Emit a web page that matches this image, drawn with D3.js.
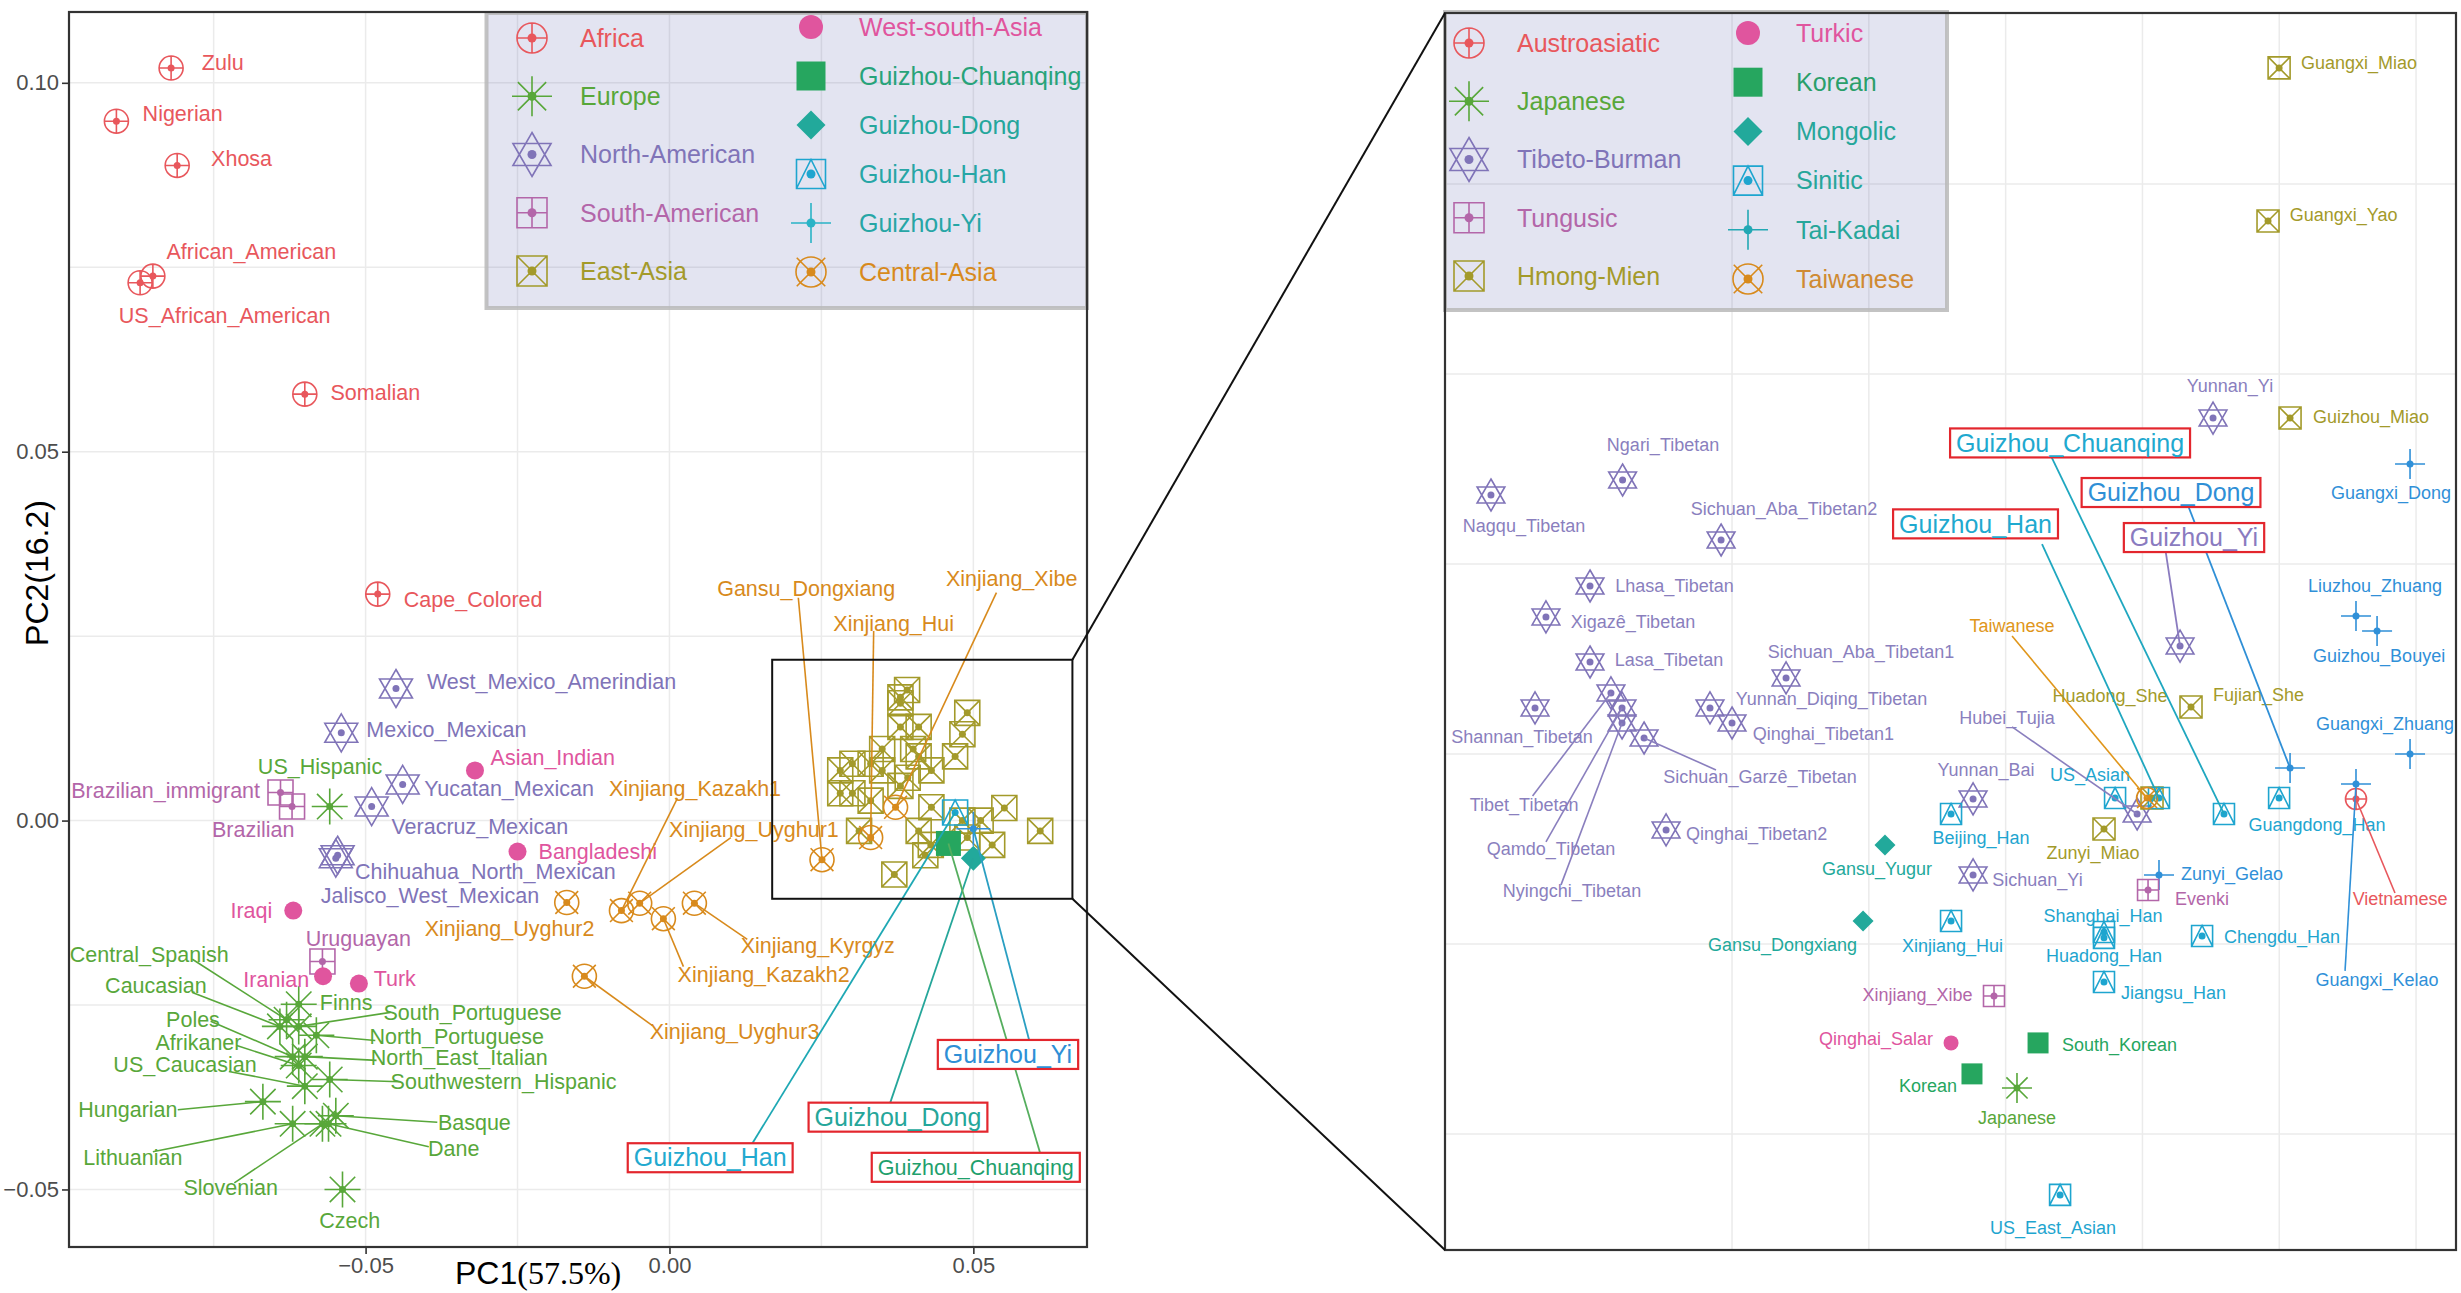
<!DOCTYPE html>
<html>
<head>
<meta charset="utf-8">
<script src="https://cdn.jsdelivr.net/npm/d3@7"></script>
<style>
  html, body { margin: 0; padding: 0; background: #fff; }
  svg { display: block; font-family: "Liberation Sans", Arial, sans-serif; }
</style>
</head>
<body>
<svg id="chart" width="2461" height="1293"></svg>
<script>
// ---------- data: left panel (worldwide PCA) ----------
const leftGroups = ['Africa', 'Europe', 'North-American', 'South-American', 'East-Asia',
  'West-south-Asia', 'Guizhou-Chuanqing', 'Guizhou-Dong', 'Guizhou-Han', 'Guizhou-Yi', 'Central-Asia'];

// name, group, PC1, PC2
const leftPoints = [
  ['Zulu', 'Africa', -0.0820, 0.1020],
  ['Nigerian', 'Africa', -0.0910, 0.0948],
  ['Xhosa', 'Africa', -0.0810, 0.0888],
  ['African_American', 'Africa', -0.0850, 0.0738],
  ['US_African_American', 'Africa', -0.0871, 0.0729],
  ['Somalian', 'Africa', -0.0600, 0.0578],
  ['Cape_Colored', 'Africa', -0.0480, 0.0307],
  ['US_Hispanic', 'Europe', -0.0559, 0.0019],
  ['Finns', 'Europe', -0.0610, -0.0249],
  ['Central_Spanish', 'Europe', -0.0630, -0.0270],
  ['Caucasian', 'Europe', -0.0641, -0.0279],
  ['South_Portuguese', 'Europe', -0.0610, -0.0279],
  ['North_Portuguese', 'Europe', -0.0581, -0.0291],
  ['Poles', 'Europe', -0.0620, -0.0320],
  ['North_East_Italian', 'Europe', -0.0600, -0.0320],
  ['Afrikaner', 'Europe', -0.0610, -0.0332],
  ['Southwestern_Hispanic', 'Europe', -0.0559, -0.0351],
  ['US_Caucasian', 'Europe', -0.0600, -0.0360],
  ['Hungarian', 'Europe', -0.0669, -0.0381],
  ['Lithuanian', 'Europe', -0.0620, -0.0411],
  ['Slovenian', 'Europe', -0.0571, -0.0411],
  ['Dane', 'Europe', -0.0561, -0.0411],
  ['Basque', 'Europe', -0.0549, -0.0400],
  ['Czech', 'Europe', -0.0538, -0.0500],
  ['West_Mexico_Amerindian', 'North-American', -0.0450, 0.0179],
  ['Mexico_Mexican', 'North-American', -0.0540, 0.0119],
  ['Yucatan_Mexican', 'North-American', -0.0439, 0.0049],
  ['Veracruz_Mexican', 'North-American', -0.0490, 0.0019],
  ['Chihuahua_North_Mexican', 'North-American', -0.0549, -0.0051],
  ['Jalisco_West_Mexican', 'North-American', -0.0546, -0.0047],
  ['Brazilian_immigrant', 'South-American', -0.0640, 0.0038],
  ['Brazilian', 'South-American', -0.0621, 0.0019],
  ['Uruguayan', 'South-American', -0.0571, -0.0191],
  ['Asian_Indian', 'West-south-Asia', -0.0320, 0.0068],
  ['Bangladeshi', 'West-south-Asia', -0.0250, -0.0042],
  ['Iraqi', 'West-south-Asia', -0.0619, -0.0122],
  ['Iranian', 'West-south-Asia', -0.0570, -0.0211],
  ['Turk', 'West-south-Asia', -0.0511, -0.0221],
  ['EA01', 'East-Asia', 0.0391, 0.0177], ['EA02', 'East-Asia', 0.0380, 0.0167],
  ['EA03', 'East-Asia', 0.0380, 0.0159], ['EA04', 'East-Asia', 0.0490, 0.0146],
  ['EA05', 'East-Asia', 0.0380, 0.0127], ['EA06', 'East-Asia', 0.0410, 0.0127],
  ['EA07', 'East-Asia', 0.0482, 0.0117], ['EA08', 'East-Asia', 0.0350, 0.0097],
  ['EA09', 'East-Asia', 0.0401, 0.0097], ['EA10', 'East-Asia', 0.0410, 0.0087],
  ['EA11', 'East-Asia', 0.0470, 0.0087], ['EA12', 'East-Asia', 0.0281, 0.0068],
  ['EA13', 'East-Asia', 0.0301, 0.0077], ['EA14', 'East-Asia', 0.0331, 0.0077],
  ['EA15', 'East-Asia', 0.0350, 0.0068], ['EA16', 'East-Asia', 0.0431, 0.0068],
  ['EA17', 'East-Asia', 0.0392, 0.0058], ['EA18', 'East-Asia', 0.0380, 0.0047],
  ['EA19', 'East-Asia', 0.0281, 0.0037], ['EA20', 'East-Asia', 0.0301, 0.0037],
  ['EA21', 'East-Asia', 0.0331, 0.0027], ['EA22', 'East-Asia', 0.0431, 0.0018],
  ['EA23', 'East-Asia', 0.0551, 0.0017], ['EA24', 'East-Asia', 0.0312, -0.0014],
  ['EA25', 'East-Asia', 0.0410, -0.0014], ['EA26', 'East-Asia', 0.0610, -0.0014],
  ['EA27', 'East-Asia', 0.0482, 0.0000], ['EA28', 'East-Asia', 0.0490, -0.0023],
  ['EA29', 'East-Asia', 0.0531, -0.0033], ['EA30', 'East-Asia', 0.0430, -0.0033],
  ['EA31', 'East-Asia', 0.0421, -0.0047], ['EA32', 'East-Asia', 0.0370, -0.0073],
  ['EA33', 'East-Asia', 0.0512, 0.0000],
  ['Xinjiang_Kazakh1', 'Central-Asia', -0.0079, -0.0122],
  ['Xinjiang_Uyghur1', 'Central-Asia', -0.0049, -0.0112],
  ['Xinjiang_Kazakh2', 'Central-Asia', -0.0010, -0.0133],
  ['Xinjiang_Kyrgyz', 'Central-Asia', 0.0041, -0.0112],
  ['Xinjiang_Uyghur3', 'Central-Asia', -0.0140, -0.0211],
  ['Xinjiang_Uyghur2', 'Central-Asia', -0.0169, -0.0111],
  ['Gansu_Dongxiang', 'Central-Asia', 0.0251, -0.0053],
  ['Xinjiang_Hui', 'Central-Asia', 0.0331, -0.0023],
  ['Xinjiang_Xibe', 'Central-Asia', 0.0372, 0.0018],
  ['Guizhou_Han', 'Guizhou-Han', 0.0470, 0.0011],
  ['Guizhou_Yi', 'Guizhou-Yi', 0.0500, -0.0011],
  ['Guizhou_Chuanqing', 'Guizhou-Chuanqing', 0.0459, -0.0031],
  ['Guizhou_Dong', 'Guizhou-Dong', 0.0500, -0.0051]
];

// repelled label anchors: name, labelPC1, labelPC2, [segment start PC1, PC2]
const leftLabelPos = [
  ['Zulu', -0.0735, 0.1028], ['Nigerian', -0.0801, 0.0958], ['Xhosa', -0.0704, 0.0897],
  ['African_American', -0.0688, 0.0772], ['US_African_American', -0.0732, 0.0684],
  ['Somalian', -0.0484, 0.0580], ['Cape_Colored', -0.0323, 0.0300],
  ['West_Mexico_Amerindian', -0.0194, 0.0188], ['Mexico_Mexican', -0.0367, 0.0124],
  ['Yucatan_Mexican', -0.0264, 0.0043], ['Veracruz_Mexican', -0.0312, -0.0008],
  ['Chihuahua_North_Mexican', -0.0303, -0.0069], ['Jalisco_West_Mexican', -0.0394, -0.0101],
  ['Brazilian_immigrant', -0.0829, 0.0041], ['Brazilian', -0.0685, -0.0012],
  ['Uruguayan', -0.0512, -0.0160], ['Asian_Indian', -0.0192, 0.0086],
  ['Bangladeshi', -0.0118, -0.0042], ['Iraqi', -0.0688, -0.0122],
  ['Iranian', -0.0647, -0.0216], ['Turk', -0.0452, -0.0214],
  ['US_Hispanic', -0.0575, 0.0074], ['Finns', -0.0532, -0.0246], ['Czech', -0.0526, -0.0542],
  ['Central_Spanish', -0.0856, -0.0181, -0.0785, -0.0188],
  ['Caucasian', -0.0845, -0.0223, -0.0785, -0.0233],
  ['Poles', -0.0784, -0.0269, -0.0755, -0.0272],
  ['Afrikaner', -0.0775, -0.0301, -0.0712, -0.0305],
  ['US_Caucasian', -0.0797, -0.0330, -0.0725, -0.0340],
  ['Hungarian', -0.0891, -0.0391, -0.0809, -0.0392],
  ['Lithuanian', -0.0883, -0.0457, -0.0850, -0.0449],
  ['Slovenian', -0.0722, -0.0497, -0.0716, -0.0491],
  ['South_Portuguese', -0.0324, -0.0260, -0.0459, -0.0260],
  ['North_Portuguese', -0.0350, -0.0293, -0.0484, -0.0298],
  ['North_East_Italian', -0.0346, -0.0321, -0.0482, -0.0325],
  ['Southwestern_Hispanic', -0.0273, -0.0354, -0.0444, -0.0354],
  ['Basque', -0.0321, -0.0409, -0.0382, -0.0409],
  ['Dane', -0.0355, -0.0445, -0.0396, -0.0442],
  ['Xinjiang_Kazakh1', 0.0042, 0.0044, 0.0013, 0.0030],
  ['Xinjiang_Uyghur1', 0.0139, -0.0012, 0.0101, -0.0023],
  ['Xinjiang_Kyrgyz', 0.0244, -0.0169, 0.0128, -0.0161],
  ['Xinjiang_Kazakh2', 0.0155, -0.0209, 0.0023, -0.0198],
  ['Xinjiang_Uyghur3', 0.0107, -0.0286, -0.0028, -0.0278],
  ['Xinjiang_Uyghur2', -0.0263, -0.0146],
  ['Gansu_Dongxiang', 0.0225, 0.0314, 0.0212, 0.0302],
  ['Xinjiang_Hui', 0.0369, 0.0267, 0.0336, 0.0257],
  ['Xinjiang_Xibe', 0.0563, 0.0328, 0.0538, 0.0309]
];

const leftBoxed = [
  ['Guizhou_Han', 0.0067, -0.0457, 0.0136, -0.0438],
  ['Guizhou_Dong', 0.0376, -0.0402, 0.0363, -0.0383],
  ['Guizhou_Chuanqing', 0.0504, -0.0470, 0.0610, -0.0451],
  ['Guizhou_Yi', 0.0557, -0.0317, 0.0592, -0.0298]
];

// highlighted region, enlarged on the right
const zoomPC1 = [0.0169, 0.0663];
const zoomPC2 = [-0.0106, 0.0218];

const leftTicksX = [-0.05, 0, 0.05];
const leftTicksY = [-0.05, 0, 0.05, 0.10];
const leftGridX = [-0.075, -0.05, -0.025, 0, 0.025, 0.05];
const leftGridY = [-0.05, -0.025, 0, 0.025, 0.05, 0.075, 0.10];

// ---------- data: right panel (East Asian PCA) ----------
const rightGroups = ['Austroasiatic', 'Japanese', 'Tibeto-Burman', 'Tungusic', 'Hmong-Mien',
  'Turkic', 'Korean', 'Mongolic', 'Sinitic', 'Tai-Kadai', 'Taiwanese'];

const rightPoints = [
  ['Nagqu_Tibetan', 'Tibeto-Burman', -0.01762, 0.03363],
  ['Ngari_Tibetan', 'Tibeto-Burman', -0.00800, 0.03442],
  ['Sichuan_Aba_Tibetan2', 'Tibeto-Burman', -0.00080, 0.03126],
  ['Lhasa_Tibetan', 'Tibeto-Burman', -0.01038, 0.02884],
  ['Xigazê_Tibetan', 'Tibeto-Burman', -0.01360, 0.02721],
  ['Lasa_Tibetan', 'Tibeto-Burman', -0.01038, 0.02484],
  ['Sichuan_Aba_Tibetan1', 'Tibeto-Burman', 0.00395, 0.02400],
  ['Tibet_Tibetan', 'Tibeto-Burman', -0.00885, 0.02321],
  ['Qamdo_Tibetan', 'Tibeto-Burman', -0.00804, 0.02242],
  ['Nyingchi_Tibetan', 'Tibeto-Burman', -0.00804, 0.02163],
  ['Sichuan_Garzê_Tibetan', 'Tibeto-Burman', -0.00643, 0.02084],
  ['Shannan_Tibetan', 'Tibeto-Burman', -0.01440, 0.02242],
  ['Yunnan_Diqing_Tibetan', 'Tibeto-Burman', -0.00161, 0.02242],
  ['Qinghai_Tibetan1', 'Tibeto-Burman', 0.00000, 0.02163],
  ['Qinghai_Tibetan2', 'Tibeto-Burman', -0.00482, 0.01600],
  ['Yunnan_Yi', 'Tibeto-Burman', 0.03516, 0.03768],
  ['Guizhou_Yi', 'Tibeto-Burman', 0.03275, 0.02568],
  ['Hubei_Tujia', 'Tibeto-Burman', 0.02961, 0.01684],
  ['Yunnan_Bai', 'Tibeto-Burman', 0.01762, 0.01763],
  ['Sichuan_Yi', 'Tibeto-Burman', 0.01762, 0.01363],
  ['Guangxi_Miao', 'Hmong-Mien', 0.03999, 0.05611],
  ['Guangxi_Yao', 'Hmong-Mien', 0.03918, 0.04805],
  ['Guizhou_Miao', 'Hmong-Mien', 0.04079, 0.03768],
  ['Fujian_She', 'Hmong-Mien', 0.03355, 0.02247],
  ['Huadong_She', 'Hmong-Mien', 0.03070, 0.01768],
  ['Zunyi_Miao', 'Hmong-Mien', 0.02719, 0.01605],
  ['Beijing_Han', 'Sinitic', 0.01601, 0.01684],
  ['Xinjiang_Hui', 'Sinitic', 0.01601, 0.01121],
  ['US_Asian', 'Sinitic', 0.02800, 0.01768],
  ['Guizhou_Han', 'Sinitic', 0.03121, 0.01768],
  ['Guizhou_Chuanqing', 'Sinitic', 0.03596, 0.01684],
  ['Guangdong_Han', 'Sinitic', 0.03999, 0.01768],
  ['Shanghai_Han', 'Sinitic', 0.02719, 0.01063],
  ['Huadong_Han', 'Sinitic', 0.02719, 0.01032],
  ['Chengdu_Han', 'Sinitic', 0.03436, 0.01042],
  ['Jiangsu_Han', 'Sinitic', 0.02719, 0.00800],
  ['US_East_Asian', 'Sinitic', 0.02398, -0.00321],
  ['Guangxi_Dong', 'Tai-Kadai', 0.04956, 0.03526],
  ['Liuzhou_Zhuang', 'Tai-Kadai', 0.04561, 0.02726],
  ['Guizhou_Bouyei', 'Tai-Kadai', 0.04715, 0.02647],
  ['Guangxi_Zhuang', 'Tai-Kadai', 0.04956, 0.02000],
  ['Guizhou_Dong', 'Tai-Kadai', 0.04079, 0.01926],
  ['Guangxi_Kelao', 'Tai-Kadai', 0.04561, 0.01842],
  ['Zunyi_Gelao', 'Tai-Kadai', 0.03121, 0.01363],
  ['Vietnamese', 'Austroasiatic', 0.04561, 0.01763],
  ['Taiwanese', 'Taiwanese', 0.03034, 0.01768],
  ['Evenki', 'Tungusic', 0.03041, 0.01284],
  ['Xinjiang_Xibe', 'Tungusic', 0.01915, 0.00726],
  ['Qinghai_Salar', 'Turkic', 0.01601, 0.00479],
  ['Korean', 'Korean', 0.01754, 0.00316],
  ['South_Korean', 'Korean', 0.02237, 0.00479],
  ['Gansu_Yugur', 'Mongolic', 0.01118, 0.01521],
  ['Gansu_Dongxiang', 'Mongolic', 0.00958, 0.01121],
  ['Japanese', 'Japanese', 0.02083, 0.00242]
];

const rightLabelPos = [
  ['Nagqu_Tibetan', -0.01520, 0.03200], ['Ngari_Tibetan', -0.00504, 0.03626],
  ['Sichuan_Aba_Tibetan2', 0.00380, 0.03289], ['Lhasa_Tibetan', -0.00420, 0.02884],
  ['Xigazê_Tibetan', -0.00724, 0.02695], ['Lasa_Tibetan', -0.00461, 0.02495],
  ['Sichuan_Aba_Tibetan1', 0.00943, 0.02537], ['Shannan_Tibetan', -0.01535, 0.02089],
  ['Yunnan_Diqing_Tibetan', 0.00727, 0.02289], ['Qinghai_Tibetan1', 0.00668, 0.02105],
  ['Sichuan_Garzê_Tibetan', 0.00205, 0.01879, -0.00117, 0.01916],
  ['Tibet_Tibetan', -0.01520, 0.01732, -0.01458, 0.01779],
  ['Qamdo_Tibetan', -0.01323, 0.01500, -0.01360, 0.01537],
  ['Nyingchi_Tibetan', -0.01170, 0.01279, -0.01250, 0.01311],
  ['Qinghai_Tibetan2', 0.00180, 0.01579], ['Gansu_Yugur', 0.01060, 0.01395],
  ['Gansu_Dongxiang', 0.00369, 0.00995], ['Beijing_Han', 0.01820, 0.01558],
  ['Xinjiang_Hui', 0.01612, 0.00989], ['Xinjiang_Xibe', 0.01356, 0.00732],
  ['Qinghai_Salar', 0.01053, 0.00500], ['Korean', 0.01433, 0.00253],
  ['Yunnan_Bai', 0.01857, 0.01916], ['Sichuan_Yi', 0.02233, 0.01337],
  ['Hubei_Tujia', 0.02010, 0.02189, 0.02047, 0.02142],
  ['US_Asian', 0.02617, 0.01889],
  ['Taiwanese', 0.02047, 0.02674, 0.02047, 0.02621],
  ['Huadong_She', 0.02763, 0.02305], ['Fujian_She', 0.03849, 0.02311],
  ['Zunyi_Miao', 0.02639, 0.01479], ['Zunyi_Gelao', 0.03655, 0.01368],
  ['Evenki', 0.03436, 0.01237], ['Shanghai_Han', 0.02712, 0.01147],
  ['Huadong_Han', 0.02719, 0.00937], ['Jiangsu_Han', 0.03227, 0.00742],
  ['Chengdu_Han', 0.04020, 0.01037], ['Guangdong_Han', 0.04276, 0.01626],
  ['Guangxi_Kelao', 0.04715, 0.00811, 0.04481, 0.00858],
  ['Vietnamese', 0.04883, 0.01237, 0.04846, 0.01268],
  ['Guangxi_Dong', 0.04817, 0.03374], ['Liuzhou_Zhuang', 0.04700, 0.02884],
  ['Guizhou_Bouyei', 0.04730, 0.02516], ['Guangxi_Zhuang', 0.04773, 0.02158],
  ['Guangxi_Miao', 0.04583, 0.05637], ['Guangxi_Yao', 0.04470, 0.04837],
  ['Yunnan_Yi', 0.03640, 0.03937], ['Guizhou_Miao', 0.04671, 0.03774],
  ['South_Korean', 0.02833, 0.00468], ['Japanese', 0.02083, 0.00084],
  ['US_East_Asian', 0.02346, -0.00495]
];

const rightBoxed = [
  ['Guizhou_Chuanqing', 0.02471, 0.03637, 0.02310, 0.03600],
  ['Guizhou_Han', 0.01780, 0.03211, 0.02266, 0.03105],
  ['Guizhou_Dong', 0.03209, 0.03376, 0.03326, 0.03321],
  ['Guizhou_Yi', 0.03377, 0.03139, 0.03158, 0.03121]
];

const rightGridX = [0, 0.01, 0.02, 0.03, 0.04, 0.05];
const rightGridY = [0, 0.01, 0.02, 0.03, 0.04, 0.05];

// ---------- styles ----------
const shapeOf = {
  'Africa': 'circlePlus', 'Europe': 'asterisk', 'North-American': 'starDavid',
  'South-American': 'squarePlus', 'East-Asia': 'squareX', 'West-south-Asia': 'circle',
  'Guizhou-Chuanqing': 'square', 'Guizhou-Dong': 'diamond', 'Guizhou-Han': 'squareTri',
  'Guizhou-Yi': 'plus', 'Central-Asia': 'circleX',
  'Austroasiatic': 'circlePlus', 'Japanese': 'asterisk', 'Tibeto-Burman': 'starDavid',
  'Tungusic': 'squarePlus', 'Hmong-Mien': 'squareX', 'Turkic': 'circle',
  'Korean': 'square', 'Mongolic': 'diamond', 'Sinitic': 'squareTri',
  'Tai-Kadai': 'plus', 'Taiwanese': 'circleX'
};
const colorOf = {
  'Africa': '#e8575c', 'Europe': '#58a73a', 'North-American': '#8074b8',
  'South-American': '#b366a9', 'East-Asia': '#a39a2a', 'West-south-Asia': '#e0559e',
  'Guizhou-Chuanqing': '#26a65f', 'Guizhou-Dong': '#22a99b', 'Guizhou-Han': '#1ea5cf',
  'Guizhou-Yi': '#3090d8', 'Central-Asia': '#d88a1c',
  'Austroasiatic': '#e8575c', 'Japanese': '#58a73a', 'Tibeto-Burman': '#8074b8',
  'Tungusic': '#b366a9', 'Hmong-Mien': '#a39a2a', 'Turkic': '#e0559e',
  'Korean': '#26a65f', 'Mongolic': '#22a99b', 'Sinitic': '#1ea5cf',
  'Tai-Kadai': '#3090d8', 'Taiwanese': '#d88a1c'
};
const legendSymbolColor = { 'Guizhou-Yi': '#2ab3c6', 'Tai-Kadai': '#22a8b4' };
const legendTextColor = {
  'Guizhou-Chuanqing': '#27a37a', 'Guizhou-Dong': '#25a69c', 'Guizhou-Han': '#27a6a6',
  'Guizhou-Yi': '#27a6a6', 'Korean': '#2a9f6a', 'Mongolic': '#26a69a',
  'Sinitic': '#26a69a', 'Tai-Kadai': '#26a69a', 'Taiwanese': '#cf8a33'
};
const labelColorRight = { 'Tibeto-Burman': '#8a7fbe', 'Taiwanese': '#e0961a' };
const boxedStyle = {
  left: {
    'Guizhou_Han': { text: '#22a9cf', seg: '#1ea8b4', size: 25 },
    'Guizhou_Dong': { text: '#25a69a', seg: '#25a69a', size: 25 },
    'Guizhou_Chuanqing': { text: '#1fa06c', seg: '#55ae5e', size: 21.5 },
    'Guizhou_Yi': { text: '#2e8fd6', seg: '#2a9fc2', size: 25 }
  },
  right: {
    'Guizhou_Chuanqing': { text: '#1fa9cf', seg: '#1fa7c0', size: 25 },
    'Guizhou_Han': { text: '#1fa9cf', seg: '#1fa7c0', size: 25 },
    'Guizhou_Dong': { text: '#2f8fd6', seg: '#2f8fd6', size: 25 },
    'Guizhou_Yi': { text: '#8a7bbf', seg: '#8a7bbf', size: 25 }
  }
};
const sizeLeft = { circlePlus: 12, circleX: 12, asterisk: 18, starDavid: 19, squarePlus: 12.5,
  squareX: 12.5, squareTri: 12.5, plus: 17, circle: 9, square: 12.5, diamond: 12.5 };
const sizeRight = { circlePlus: 10.5, circleX: 10.5, asterisk: 15, starDavid: 16, squarePlus: 10.5,
  squareX: 11, squareTri: 10.5, plus: 15, circle: 7.5, square: 10.5, diamond: 10.5 };
const sizeLegend = { circlePlus: 15, circleX: 15, asterisk: 20, starDavid: 22, squarePlus: 15,
  squareX: 15, squareTri: 14.5, plus: 20, circle: 12, square: 14.5, diamond: 14.5 };

// ---------- helpers ----------
const svg = d3.select('#chart');

function symbolPath(type, h) {
  const p = d3.path();
  const seg = (x1, y1, x2, y2) => { p.moveTo(x1, y1); p.lineTo(x2, y2); };
  const ring = r => { p.moveTo(r, 0); p.arc(0, 0, r, 0, 2 * Math.PI); };
  switch (type) {
    case 'circlePlus': ring(h); seg(-h, 0, h, 0); seg(0, -h, 0, h); break;
    case 'circleX': { ring(h); const k = h * 0.95; seg(-k, -k, k, k); seg(-k, k, k, -k); break; }
    case 'asterisk':
      [0, 45, 90, 135].forEach(a => {
        const r = a * Math.PI / 180;
        seg(-h * Math.cos(r), -h * Math.sin(r), h * Math.cos(r), h * Math.sin(r));
      });
      break;
    case 'starDavid': {
      const c = h * Math.sqrt(3) / 2;
      p.moveTo(0, -h); p.lineTo(c, h / 2); p.lineTo(-c, h / 2); p.closePath();
      p.moveTo(0, h); p.lineTo(c, -h / 2); p.lineTo(-c, -h / 2); p.closePath();
      break;
    }
    case 'squarePlus': p.rect(-h, -h, 2 * h, 2 * h); seg(-h, 0, h, 0); seg(0, -h, 0, h); break;
    case 'squareX': p.rect(-h, -h, 2 * h, 2 * h); seg(-h, -h, h, h); seg(-h, h, h, -h); break;
    case 'squareTri': p.rect(-h, -h, 2 * h, 2 * h); p.moveTo(-h, h); p.lineTo(0, -h); p.lineTo(h, h); break;
    case 'plus': seg(-h, 0, h, 0); seg(0, -h, 0, h); break;
    case 'circle': ring(h); break;
    case 'square': p.rect(-h, -h, 2 * h, 2 * h); break;
    case 'diamond': p.moveTo(0, -h); p.lineTo(h, 0); p.lineTo(0, h); p.lineTo(-h, 0); p.closePath(); break;
  }
  return p.toString();
}

function drawSymbol(sel, type, h, color, dotR) {
  const filled = type === 'circle' || type === 'square' || type === 'diamond';
  sel.append('path')
    .attr('d', symbolPath(type, h))
    .attr('fill', filled ? color : 'none')
    .attr('stroke', filled ? 'none' : color)
    .attr('stroke-width', 1.6);
  if (!filled) sel.append('circle').attr('r', dotR).attr('fill', color);
}

function toRows(rows) {
  return rows.map(([name, group, pc1, pc2]) => ({ name, group, pc1, pc2 }));
}

function panelFrame(x, y, gridX, gridY) {
  const g = svg.append('g');
  const [x0, x1] = x.range(), [y0, y1] = [y.range()[1], y.range()[0]];
  g.append('rect').attr('x', x0).attr('y', y0).attr('width', x1 - x0).attr('height', y1 - y0).attr('fill', '#fff');
  g.selectAll('.gx').data(gridX).join('line')
    .attr('x1', d => x(d)).attr('x2', d => x(d)).attr('y1', y0).attr('y2', y1)
    .attr('stroke', '#ebebeb').attr('stroke-width', 1.5);
  g.selectAll('.gy').data(gridY).join('line')
    .attr('y1', d => y(d)).attr('y2', d => y(d)).attr('x1', x0).attr('x2', x1)
    .attr('stroke', '#ebebeb').attr('stroke-width', 1.5);
  return g;
}

function panelBorder(x, y) {
  const [x0, x1] = x.range(), [y0, y1] = [y.range()[1], y.range()[0]];
  svg.append('rect').attr('x', x0).attr('y', y0).attr('width', x1 - x0).attr('height', y1 - y0)
    .attr('fill', 'none').attr('stroke', '#333').attr('stroke-width', 2.2);
}

function drawPoints(layer, rows, x, y, sizes, dotR) {
  layer.selectAll(null).data(rows).join('g')
    .attr('transform', d => `translate(${x(d.pc1)},${y(d.pc2)})`)
    .each(function (d) {
      const t = shapeOf[d.group];
      drawSymbol(d3.select(this), t, sizes[t], colorOf[d.group], dotR);
    });
}

function drawLabels(layer, labels, byName, x, y, fontSize, colorFn) {
  labels.forEach(([name, lx, ly, sx, sy]) => {
    const p = byName.get(name);
    const col = colorFn(p.group);
    if (sx !== undefined) {
      layer.append('line')
        .attr('x1', x(sx)).attr('y1', y(sy)).attr('x2', x(p.pc1)).attr('y2', y(p.pc2))
        .attr('stroke', col).attr('stroke-width', 1.6);
    }
    layer.append('text')
      .attr('x', x(lx)).attr('y', y(ly)).attr('dy', '0.35em')
      .attr('text-anchor', 'middle').attr('font-size', fontSize)
      .attr('fill', col).text(name);
  });
}

function drawBoxed(layer, boxes, byName, x, y, styles) {
  boxes.forEach(([name, lx, ly, sx, sy]) => {
    const p = byName.get(name);
    const st = styles[name];
    layer.append('line')
      .attr('x1', x(sx)).attr('y1', y(sy)).attr('x2', x(p.pc1)).attr('y2', y(p.pc2))
      .attr('stroke', st.seg).attr('stroke-width', 1.8);
  });
  boxes.forEach(([name, lx, ly]) => {
    const st = styles[name];
    const g = layer.append('g');
    const t = g.append('text')
      .attr('x', x(lx)).attr('y', y(ly)).attr('dy', '0.35em')
      .attr('text-anchor', 'middle').attr('font-size', st.size)
      .attr('fill', st.text).text(name);
    const bb = t.node().getBBox();
    g.insert('rect', 'text')
      .attr('x', bb.x - 6).attr('y', y(ly) - 14.5)
      .attr('width', bb.width + 12).attr('height', 29)
      .attr('fill', '#fff').attr('stroke', '#e3262d').attr('stroke-width', 2.2);
  });
}

function drawLegend(box, groups, col1Count, col1X, col2X, rows1, rows2) {
  const g = svg.append('g');
  g.append('rect').attr('x', box[0]).attr('y', box[1]).attr('width', box[2]).attr('height', box[3])
    .attr('fill', 'rgb(90,95,170)').attr('fill-opacity', 0.17)
    .attr('stroke', '#b8b8b8').attr('stroke-opacity', 0.85).attr('stroke-width', 4);
  const r1 = d3.scalePoint().domain(groups.slice(0, col1Count)).range(rows1);
  const r2 = d3.scalePoint().domain(groups.slice(col1Count)).range(rows2);
  groups.forEach((grp, i) => {
    const left = i < col1Count;
    const cx = left ? col1X : col2X;
    const cy = left ? r1(grp) : r2(grp);
    const t = shapeOf[grp];
    const s = g.append('g').attr('transform', `translate(${cx},${cy})`);
    drawSymbol(s, t, sizeLegend[t], legendSymbolColor[grp] || colorOf[grp], 4.5);
    g.append('text').attr('x', cx + 48).attr('y', cy).attr('dy', '0.35em')
      .attr('font-size', 25).attr('fill', legendTextColor[grp] || colorOf[grp]).text(grp);
  });
}

// ---------- scales ----------
const xL = d3.scaleLinear().domain([-0.0988, 0.0687]).range([69, 1087]);
const yL = d3.scaleLinear().domain([-0.0578, 0.1096]).range([1247, 12]);
const xR = d3.scaleLinear().domain([-0.02098, 0.05292]).range([1445, 2456]);
const yR = d3.scaleLinear().domain([-0.00611, 0.0590]).range([1250, 13]);

// ---------- left panel ----------
const leftRows = toRows(leftPoints);
const leftByName = new Map(leftRows.map(d => [d.name, d]));
const guizhouLeft = leftRows.filter(d => d.group.startsWith('Guizhou'));
const otherLeft = leftRows.filter(d => !d.group.startsWith('Guizhou'));

panelFrame(xL, yL, leftGridX, leftGridY);
drawLegend([486.5, 13, 600.5, 295], leftGroups, 5, 532, 811, [38, 271], [27, 272]);
const lp = svg.append('g');
drawPoints(lp, otherLeft, xL, yL, sizeLeft, 3.5);
drawLabels(lp, leftLabelPos, leftByName, xL, yL, 21.5, grp => colorOf[grp]);
drawPoints(lp, guizhouLeft, xL, yL, sizeLeft, 3.5);
drawBoxed(lp, leftBoxed, leftByName, xL, yL, boxedStyle.left);

// zoom rectangle
svg.append('rect')
  .attr('x', xL(zoomPC1[0])).attr('y', yL(zoomPC2[1]))
  .attr('width', xL(zoomPC1[1]) - xL(zoomPC1[0]))
  .attr('height', yL(zoomPC2[0]) - yL(zoomPC2[1]))
  .attr('fill', 'none').attr('stroke', '#111').attr('stroke-width', 2);
panelBorder(xL, yL);

// axes
const axB = svg.append('g').attr('transform', `translate(0,${yL.range()[0]})`)
  .call(d3.axisBottom(xL).tickValues(leftTicksX).tickSize(7).tickPadding(3).tickFormat(d3.format('.2f')));
const axL = svg.append('g').attr('transform', `translate(${xL.range()[0]},0)`)
  .call(d3.axisLeft(yL).tickValues(leftTicksY).tickSize(7).tickPadding(3).tickFormat(d3.format('.2f')));
[axB, axL].forEach(a => {
  a.select('.domain').remove();
  a.selectAll('line').attr('stroke', '#333').attr('stroke-width', 1.6);
  a.selectAll('text').attr('font-size', 22).attr('fill', '#4d4d4d')
    .attr('font-family', '"Liberation Sans", Arial, sans-serif');
});

const t1 = svg.append('text').attr('x', 455).attr('y', 1284).attr('font-size', 32).attr('fill', '#000');
t1.append('tspan').text('PC1');
t1.append('tspan').attr('font-family', '"Liberation Serif", "Times New Roman", serif').text('(57.5%)');
svg.append('text').attr('transform', 'translate(48,573) rotate(-90)')
  .attr('text-anchor', 'middle').attr('font-size', 32).attr('fill', '#000').text('PC2(16.2)');

// ---------- right panel ----------
const rightRows = toRows(rightPoints);
const rightByName = new Map(rightRows.map(d => [d.name, d]));

panelFrame(xR, yR, rightGridX, rightGridY);
drawLegend([1445, 12, 502, 298], rightGroups, 5, 1469, 1748, [43, 276], [33, 279]);
const rp = svg.append('g');
drawPoints(rp, rightRows, xR, yR, sizeRight, 3.5);
drawLabels(rp, rightLabelPos, rightByName, xR, yR, 18, grp => labelColorRight[grp] || colorOf[grp]);
drawBoxed(rp, rightBoxed, rightByName, xR, yR, boxedStyle.right);
panelBorder(xR, yR);

// connector lines from the highlighted box to the enlarged panel
const conn = [
  [xL(zoomPC1[1]), yL(zoomPC2[1]), xR.range()[0], yR.range()[1]],
  [xL(zoomPC1[1]), yL(zoomPC2[0]), xR.range()[0], yR.range()[0]]
];
svg.selectAll('.conn').data(conn).join('line')
  .attr('x1', d => d[0]).attr('y1', d => d[1]).attr('x2', d => d[2]).attr('y2', d => d[3])
  .attr('stroke', '#111').attr('stroke-width', 2);
</script>
</body>
</html>
